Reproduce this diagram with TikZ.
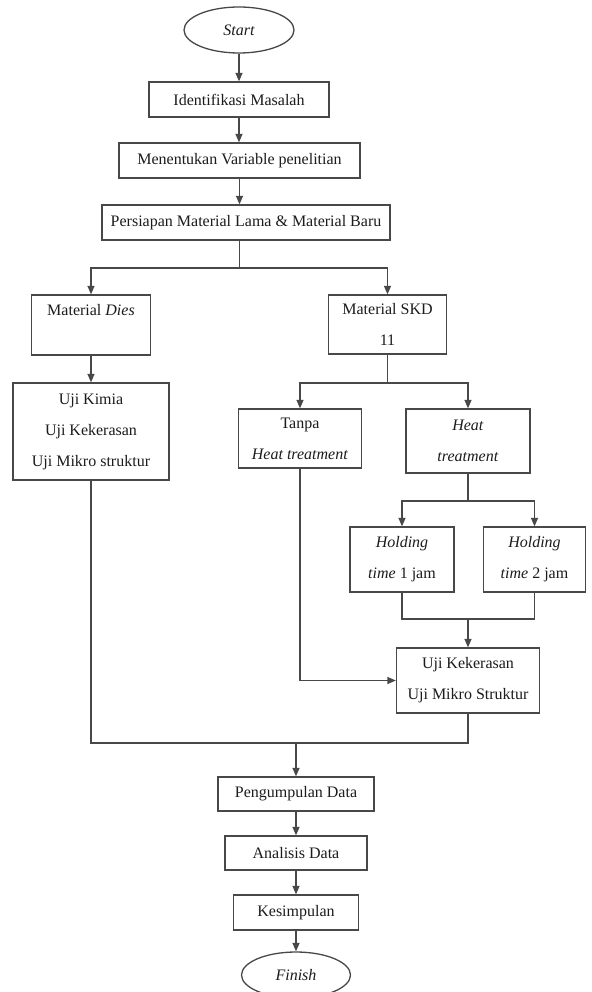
\documentclass[tikz,border=0pt]{standalone}
\usepackage{fontspec}
\setmainfont{Liberation Serif}
\usetikzlibrary{arrows.meta,shapes.geometric}
\definecolor{linec}{HTML}{484848}
\definecolor{txtc}{HTML}{1C1C1C}
\begin{document}
\begin{tikzpicture}[x=1pt,y=-1pt,
  box/.style={draw=linec, line width=1.3pt, rectangle, inner sep=0pt, align=center, text=txtc, font=\fontsize{16}{31}\selectfont},
  term/.style={draw=linec, line width=1.3pt, ellipse, inner sep=0pt, text=txtc, font=\fontsize{16}{19}\selectfont\itshape},
  arr/.style={draw=linec, line width=1.3pt, -{Triangle[length=8.5pt,width=7pt]}},
  ln/.style={draw=linec, line width=1.3pt}]
\useasboundingbox (0,0) rectangle (591,992);
\fill[white] (0,0) rectangle (591,992);

% top column
\node[term, minimum width=110pt, minimum height=46pt] (start) at (239,30) {Start};
\node[box, minimum width=180pt, minimum height=35pt] (ident) at (239,99.5) {Identifikasi Masalah};
\node[box, minimum width=241pt, minimum height=35pt] (menent) at (239.5,160.5) {Menentukan Variable penelitian};
\node[box, minimum width=288pt, minimum height=35pt] (persiap) at (246,222.5) {Persiapan Material Lama \& Material Baru};

% first split
\node[box, minimum width=119pt, minimum height=60pt] (dies) at (91,325) {Material \textit{Dies}\\\phantom{11}};
\node[box, minimum width=118pt, minimum height=59pt] (skd) at (387.5,324.5) {Material SKD\\11};
\node[box, minimum width=156pt, minimum height=97pt] (ujik1) at (91,431.5) {Uji Kimia\\Uji Kekerasan\\Uji Mikro struktur};

% SKD branch
\node[box, minimum width=123pt, minimum height=59pt] (tanpa) at (300,438.5) {Tanpa\\\textit{Heat treatment}};
\node[box, minimum width=124pt, minimum height=64pt] (heat) at (468,441) {\textit{Heat}\\\textit{treatment}};
\node[box, minimum width=104pt, minimum height=65pt] (hold1) at (402,559.5) {\textit{Holding}\\\textit{time} 1 jam};
\node[box, minimum width=102pt, minimum height=65pt] (hold2) at (534.5,559.5) {\textit{Holding}\\\textit{time} 2 jam};
\node[box, minimum width=143pt, minimum height=65pt] (ujik2) at (468,680.5) {Uji Kekerasan\\Uji Mikro Struktur};

% bottom column
\node[box, minimum width=156pt, minimum height=34pt] (peng) at (296,794) {Pengumpulan Data};
\node[box, minimum width=142pt, minimum height=34pt] (anal) at (296,853) {Analisis Data};
\node[box, minimum width=125pt, minimum height=35pt] (kesim) at (296,912.5) {Kesimpulan};
\node[term, minimum width=109pt, minimum height=46pt] (finish) at (296,975) {Finish};

% junction points
\coordinate (s1) at (239.5,268);
\coordinate (s2) at (387.5,383);
\coordinate (s3) at (468,501);
\coordinate (j1) at (468,619);
\coordinate (m) at (296,743);

% connectors
\draw[arr] (start.south) -- (start.south |- ident.north);
\draw[arr] (ident.south) -- (ident.south |- menent.north);
\draw[arr] (menent.south) -- (menent.south |- persiap.north);
\draw[ln] (menent.south |- persiap.south) -- (s1);
\draw[arr] (s1) -| (dies.north);
\draw[arr] (s1) -| (skd.north);
\draw[arr] (dies.south) -- (ujik1.north);
\draw[ln] (skd.south) -- (s2);
\draw[arr] (s2) -| (tanpa.north);
\draw[arr] (s2) -| (heat.north);
\draw[ln] (heat.south) -- (s3);
\draw[arr] (s3) -| (hold1.north);
\draw[arr] (s3) -| (hold2.north);
\draw[ln] (hold1.south) |- (j1) -| (hold2.south);
\draw[arr] (j1) -- (j1 |- ujik2.north);
\draw[arr] (tanpa.south) |- (ujik2.west);
\draw[ln] (ujik1.south) |- (m) -| (ujik2.south);
\draw[arr] (m) -- (m |- peng.north);
\draw[arr] (peng.south) -- (anal.north);
\draw[arr] (anal.south) -- (kesim.north);
\draw[arr] (kesim.south) -- (finish.north);
\end{tikzpicture}
\end{document}
